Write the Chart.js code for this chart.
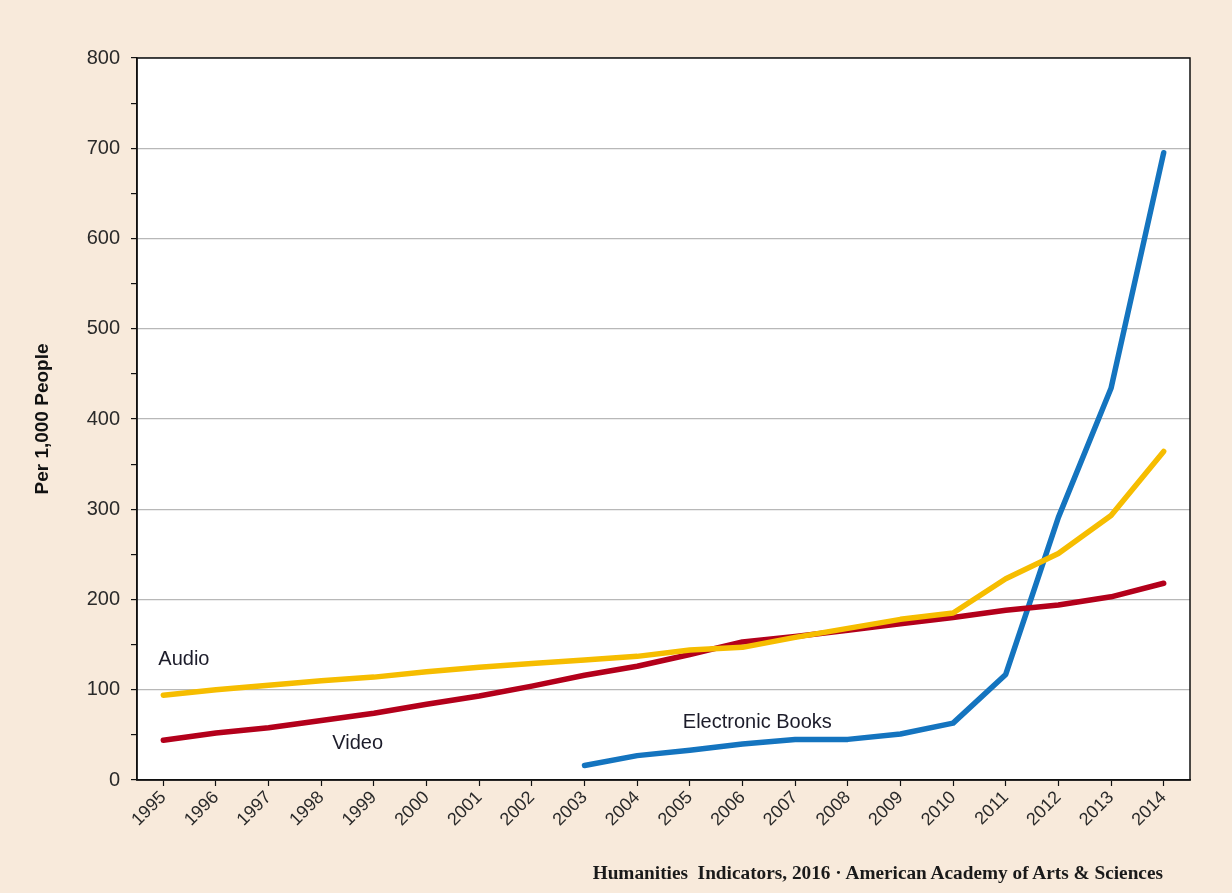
<!DOCTYPE html>
<html>
<head>
<meta charset="utf-8">
<script src="https://cdn.jsdelivr.net/npm/chart.js@4.4.0/dist/chart.umd.min.js"></script>
<style>
    html, body {
        margin: 0;
        padding: 0;
        background: #f8eadb;
        overflow: hidden;
    }
    .chart-container {
        position: relative;
        width: 1232px;
        height: 893px;
    }
    .source {
        position: absolute;
        right: 69px;
        top: 862px;
        font-family: "Liberation Serif", "DejaVu Serif", serif;
        font-weight: bold;
        font-size: 19.3px;
        color: #1a1a1a;
        white-space: nowrap;
    }
</style>
</head>
<body>
<div class="chart-container">
    <canvas id="chart" width="1232" height="893"></canvas>
    <div class="source">Humanities&nbsp; Indicators, 2016 &middot; American Academy of Arts &amp; Sciences</div>
</div>

<script>
    const years = ["1995", "1996", "1997", "1998", "1999", "2000", "2001", "2002", "2003", "2004",
                   "2005", "2006", "2007", "2008", "2009", "2010", "2011", "2012", "2013", "2014"]
    const audio = [94, 100, 105, 110, 114, 120, 125, 129, 133, 137, 144, 147, 158, 168, 178, 185, 223, 251, 293, 364]
    const video = [44, 52, 58, 66, 74, 84, 93, 104, 116, 126, 139, 153, 159, 166, 173, 180, 188, 194, 203, 218]
    const ebooks = [null, null, null, null, null, null, null, null, 16, 27, 33, 40, 45, 45, 51, 63, 117, 291, 434, 695]
    const yTicks = [0, 100, 200, 300, 400, 500, 600, 700, 800]

    // text labels next to the lines, placed in data coordinates
    const seriesLabels = [
        {text: "Audio", year: "1995", value: 133, dx: -5},
        {text: "Video", year: "1998", value: 41, dx: 11},
        {text: "Electronic Books", year: "2005", value: 64, dx: -7}
    ]

    const plotBackground = {
        id: "plotBackground",
        beforeDraw: (chart) => {
            const {ctx, chartArea} = chart
            ctx.save()
            ctx.fillStyle = "#ffffff"
            ctx.fillRect(chartArea.left, chartArea.top, chartArea.right - chartArea.left, chartArea.bottom - chartArea.top)
            ctx.restore()
        },
        afterDatasetsDraw: (chart) => {
            const {ctx, chartArea, scales} = chart
            ctx.save()
            ctx.strokeStyle = "#111"
            ctx.lineWidth = 1.5
            ctx.strokeRect(chartArea.left, chartArea.top, chartArea.right - chartArea.left, chartArea.bottom - chartArea.top)
            ctx.fillStyle = "#1c1c2a"
            ctx.font = "20px 'Liberation Sans', Arial, sans-serif"
            ctx.textBaseline = "middle"
            ctx.textAlign = "left"
            seriesLabels.forEach(l => {
                ctx.fillText(l.text, scales.x.getPixelForValue(years.indexOf(l.year)) + l.dx, scales.y.getPixelForValue(l.value))
            })
            ctx.restore()
        }
    }

    const lineStyle = (color) => ({
        borderColor: color,
        backgroundColor: color,
        borderWidth: 5.5,
        pointRadius: 0,
        tension: 0,
        fill: false,
        borderCapStyle: "round",
        borderJoinStyle: "round"
    })

    const ctx = document.getElementById("chart").getContext("2d")
    new Chart(ctx, {
        type: "line",
        data: {
            labels: years,
            datasets: [
                {label: "Audio", data: audio, ...lineStyle("#f6bd00")},
                {label: "Video", data: video, ...lineStyle("#b3001b")},
                {label: "Electronic Books", data: ebooks, ...lineStyle("#1474bf")}
            ]
        },
        options: {
            responsive: false,
            animation: false,
            layout: {padding: {top: 58, right: 42, left: 0, bottom: 0}},
            plugins: {
                legend: {display: false},
                tooltip: {enabled: false}
            },
            scales: {
                x: {
                    offset: true,
                    afterFit: (scale) => { scale.height = 113 },
                    grid: {
                        offset: false,
                        drawOnChartArea: false,
                        drawTicks: true,
                        tickLength: 6,
                        tickColor: "#111",
                        tickWidth: 1.2
                    },
                    border: {display: true, color: "#111", width: 1.5},
                    ticks: {
                        minRotation: 45,
                        maxRotation: 45,
                        autoSkip: false,
                        color: "#2a2a2a",
                        padding: 1,
                        font: {family: "'Liberation Sans', Arial, sans-serif", size: 18}
                    }
                },
                y: {
                    min: yTicks[0],
                    max: yTicks[yTicks.length - 1],
                    afterFit: (scale) => { scale.width = 137 },
                    afterBuildTicks: (scale) => {
                        const t = []
                        for (let v = yTicks[0]; v <= yTicks[yTicks.length - 1]; v += 50) t.push({value: v})
                        scale.ticks = t
                    },
                    grid: {
                        color: (c) => (c.tick && yTicks.includes(c.tick.value)) ? "#b8b8b8" : "rgba(0,0,0,0)",
                        lineWidth: 1.2,
                        tickColor: "#111",
                        tickLength: 6,
                        tickWidth: 1.2
                    },
                    border: {display: true, color: "#111", width: 1.5},
                    ticks: {
                        color: "#2a2a2a",
                        padding: 11,
                        callback: (v) => yTicks.includes(v) ? String(v) : "",
                        font: {family: "'Liberation Sans', Arial, sans-serif", size: 20}
                    },
                    title: {
                        display: true,
                        text: "Per 1,000 People",
                        color: "#111",
                        padding: {top: 31, bottom: 0},
                        font: {family: "'Liberation Sans', Arial, sans-serif", size: 19, weight: "bold"}
                    }
                }
            }
        },
        plugins: [plotBackground]
    })
</script>
</body>
</html>
